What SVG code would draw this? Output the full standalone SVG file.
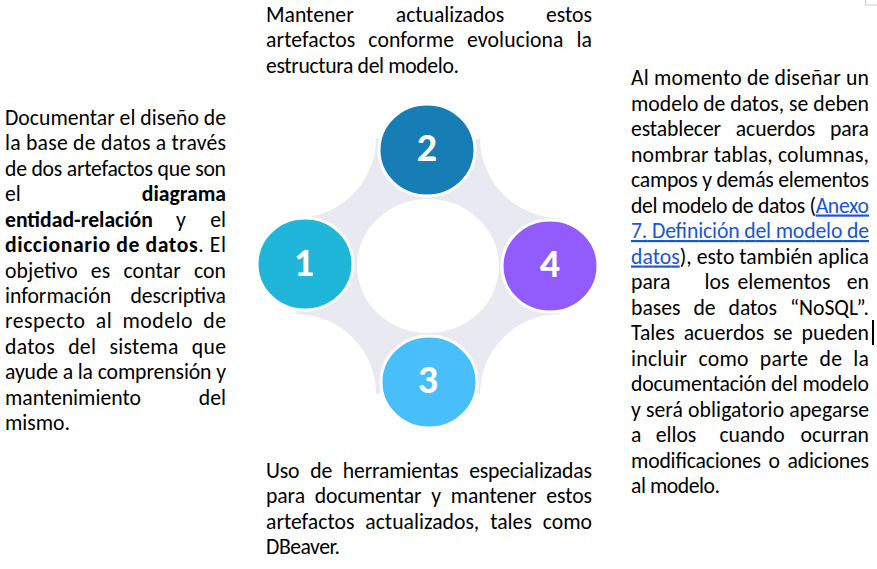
<svg xmlns="http://www.w3.org/2000/svg" width="877" height="569" viewBox="0 0 877 569">
<style>
.t{font-family:Carlito,Lato,"Liberation Sans",sans-serif;font-size:21.7px;fill:#000}
.b{font-weight:bold}
.lk{fill:#1a55d8;text-decoration:underline}
.num{font-family:Carlito,Lato,"Liberation Sans",sans-serif;font-size:40px;font-weight:bold;fill:#fff;text-anchor:middle}
.c{stroke:#fff;stroke-width:3}
.e{text-anchor:end}
.m{text-anchor:middle}
</style>
<rect width="877" height="569" fill="#fff"/>
<rect x="865.5" y="-1" width="12" height="6" fill="#fff" stroke="#d0d0d0" stroke-width="1"/>

<g id="connectors">
<path d="M305,264 L296,218 A80,80 0 0 0 376,138 L427,150 L480,138 A80,80 0 0 0 560,218 L550,266 L560,314 A80,80 0 0 0 480,394 L429,382 L376,394 A80,80 0 0 0 296,314 Z" fill="#e9e9f1"/>
<ellipse cx="428" cy="266" rx="71" ry="67" fill="#fff"/>
</g>

<g id="node1"><ellipse class="c" cx="305" cy="264" rx="48" ry="46" fill="#1fb6da"/><text class="num" x="304" y="276">1</text></g>
<g id="node2"><ellipse class="c" cx="427" cy="150" rx="48" ry="46" fill="#177db5"/><text class="num" x="427" y="161">2</text></g>
<g id="node3"><ellipse class="c" cx="429" cy="382" rx="48" ry="46" fill="#48befa"/><text class="num" x="428" y="393">3</text></g>
<g id="node4"><ellipse class="c" cx="550" cy="266" rx="48" ry="46" fill="#915cfb"/><text class="num" x="550" y="277">4</text></g>

<g id="text1" class="t">
<text class="t" x="5" y="125" textLength="221" lengthAdjust="spacing">Documentar el diseño de</text>
<text class="t" x="5" y="150.4" textLength="221" lengthAdjust="spacing">la base de datos a través</text>
<text class="t" x="5" y="175.8" textLength="221" lengthAdjust="spacing">de dos artefactos que son</text>
<text class="t" x="5" y="201.3">el</text><text class="t b e" x="226" y="201.3">diagrama</text>
<text class="t b" x="5" y="226.7">entidad-relación</text><text class="t m" x="181" y="226.7">y</text><text class="t e" x="226" y="226.7">el</text>
<text class="t" x="5" y="252.1" textLength="221" lengthAdjust="spacing"><tspan class="b">diccionario de datos</tspan>. El</text>
<text class="t" x="5" y="277.5" textLength="221" lengthAdjust="spacing" word-spacing="8">objetivo es contar con</text>
<text class="t" x="5" y="302.9">información</text><text class="t e" x="226" y="302.9">descriptiva</text>
<text class="t" x="5" y="328.4" textLength="221" lengthAdjust="spacing" word-spacing="5">respecto al modelo de</text>
<text class="t" x="5" y="353.8" textLength="221" lengthAdjust="spacing" word-spacing="8">datos del sistema que</text>
<text class="t" x="5" y="379.2" textLength="221" lengthAdjust="spacing">ayude a la comprensión y</text>
<text class="t" x="5" y="404.6">mantenimiento</text><text class="t e" x="226" y="404.6">del</text>
<text class="t" x="5" y="430" textLength="65" lengthAdjust="spacing">mismo.</text>
</g>

<g id="text2">
<text class="t" x="266" y="22">Mantener</text><text class="t m" x="450" y="22">actualizados</text><text class="t e" x="592" y="22">estos</text>
<text class="t" x="266" y="47.4" textLength="326" lengthAdjust="spacing" word-spacing="8">artefactos conforme evoluciona la</text>
<text class="t" x="266" y="72.8" textLength="193" lengthAdjust="spacing">estructura del modelo.</text>
</g>

<g id="text3">
<text class="t" x="266" y="478" textLength="326" lengthAdjust="spacing" word-spacing="6">Uso de herramientas especializadas</text>
<text class="t" x="266" y="503.4" textLength="326" lengthAdjust="spacing" word-spacing="5">para documentar y mantener estos</text>
<text class="t" x="266" y="528.8" textLength="326" lengthAdjust="spacing" word-spacing="6">artefactos actualizados, tales como</text>
<text class="t" x="266" y="554.3" textLength="74" lengthAdjust="spacing">DBeaver.</text>
</g>

<g id="text4">
<text class="t" x="631" y="85" textLength="238" lengthAdjust="spacing">Al momento de diseñar un</text>
<text class="t" x="631" y="110.5" textLength="238" lengthAdjust="spacing">modelo de datos, se deben</text>
<text class="t" x="631" y="136" textLength="238" lengthAdjust="spacing" word-spacing="10">establecer acuerdos para</text>
<text class="t" x="631" y="161.5" textLength="238" lengthAdjust="spacing">nombrar tablas, columnas,</text>
<text class="t" x="631" y="187" textLength="238" lengthAdjust="spacing">campos y demás elementos</text>
<text class="t" x="631" y="212.5" textLength="238" lengthAdjust="spacing">del modelo de datos (<tspan class="lk">Anexo</tspan></text>
<text class="t lk" x="631" y="238" textLength="238" lengthAdjust="spacing">7. Definición del modelo de</text>
<text class="t" x="631" y="263.5" textLength="238" lengthAdjust="spacing"><tspan class="lk">datos</tspan>), esto también aplica</text>
<text class="t" x="631" y="289">para</text><text class="t m" x="717" y="289">los</text><text class="t m" x="784" y="289">elementos</text><text class="t e" x="869" y="289">en</text>
<text class="t" x="631" y="314.5" textLength="238" lengthAdjust="spacing" word-spacing="8">bases de datos “NoSQL”.</text>
<text class="t" x="631" y="340" textLength="238" lengthAdjust="spacing" word-spacing="4">Tales acuerdos se pueden</text>
<text class="t" x="631" y="365.5" textLength="238" lengthAdjust="spacing" word-spacing="6">incluir como parte de la</text>
<text class="t" x="631" y="391" textLength="238" lengthAdjust="spacing">documentación del modelo</text>
<text class="t" x="631" y="416.5" textLength="238" lengthAdjust="spacing">y será obligatorio apegarse</text>
<text class="t" x="631" y="442">a</text><text class="t m" x="676" y="442">ellos</text><text class="t m" x="752" y="442">cuando</text><text class="t e" x="869" y="442">ocurran</text>
<text class="t" x="631" y="467.5" textLength="238" lengthAdjust="spacing" word-spacing="3">modificaciones o adiciones</text>
<text class="t" x="631" y="493" textLength="89" lengthAdjust="spacing">al modelo.</text>
</g>
<rect x="872" y="320" width="2" height="25" fill="#000"/>
</svg>
